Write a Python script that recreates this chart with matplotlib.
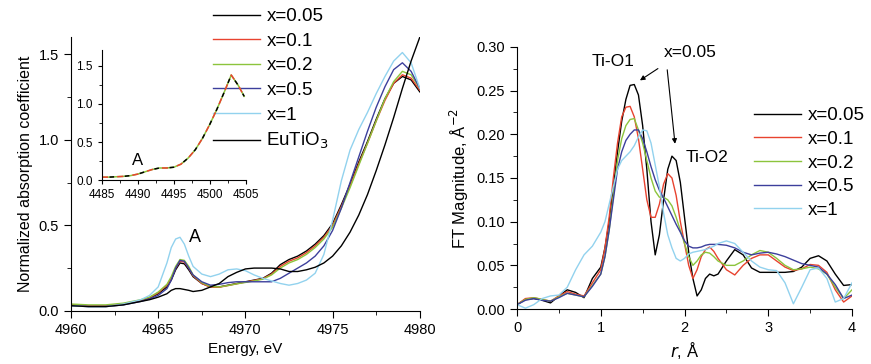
import numpy as np
import matplotlib.pyplot as plt
from matplotlib.ticker import MultipleLocator

plt.rcParams['font.family'] = ['Liberation Sans', 'DejaVu Sans']

# ---- XANES (left) ----
energy = [4960, 4961, 4962, 4963, 4964, 4964.5, 4965, 4965.5, 4965.75, 4966,
          4966.25, 4966.5, 4966.75, 4967, 4967.5, 4968, 4968.5, 4969, 4969.5, 4970,
          4970.5, 4971, 4971.5, 4972, 4972.5, 4973, 4973.5, 4974, 4974.5, 4975,
          4975.5, 4976, 4976.5, 4977, 4977.5, 4978, 4978.5, 4979, 4979.5, 4980]

xan_005 = [0.035, 0.03, 0.03, 0.04, 0.06, 0.075, 0.10, 0.14, 0.18, 0.24,
           0.28, 0.275, 0.24, 0.20, 0.16, 0.14, 0.14, 0.15, 0.16, 0.17,
           0.18, 0.19, 0.22, 0.27, 0.30, 0.32, 0.35, 0.39, 0.44, 0.51,
           0.62, 0.74, 0.87, 0.99, 1.12, 1.24, 1.33, 1.37, 1.35, 1.28]
xan_01 = [0.035, 0.03, 0.03, 0.04, 0.062, 0.078, 0.105, 0.15, 0.19, 0.25,
          0.29, 0.285, 0.25, 0.205, 0.16, 0.138, 0.138, 0.148, 0.158, 0.168,
          0.178, 0.188, 0.215, 0.26, 0.29, 0.31, 0.34, 0.38, 0.43, 0.50,
          0.61, 0.73, 0.86, 0.98, 1.11, 1.23, 1.33, 1.38, 1.36, 1.29]
xan_02 = [0.04, 0.035, 0.035, 0.045, 0.065, 0.08, 0.11, 0.155, 0.20, 0.26,
          0.30, 0.295, 0.26, 0.21, 0.165, 0.142, 0.14, 0.148, 0.158, 0.166,
          0.175, 0.185, 0.21, 0.25, 0.28, 0.30, 0.33, 0.37, 0.42, 0.49,
          0.60, 0.72, 0.85, 0.98, 1.11, 1.24, 1.34, 1.40, 1.38, 1.30]
xan_05 = [0.03, 0.025, 0.025, 0.035, 0.055, 0.07, 0.09, 0.13, 0.18, 0.25,
          0.295, 0.29, 0.25, 0.21, 0.17, 0.15, 0.155, 0.165, 0.17, 0.17,
          0.17, 0.17, 0.17, 0.19, 0.22, 0.25, 0.28, 0.32, 0.38, 0.47,
          0.60, 0.75, 0.90, 1.05, 1.19, 1.31, 1.41, 1.45, 1.40, 1.30]
xan_1 = [0.03, 0.025, 0.025, 0.04, 0.065, 0.09, 0.14, 0.28, 0.37, 0.42,
         0.43, 0.39, 0.32, 0.26, 0.215, 0.20, 0.215, 0.24, 0.245, 0.235,
         0.21, 0.19, 0.175, 0.16, 0.15, 0.16, 0.18, 0.22, 0.33, 0.53,
         0.76, 0.94, 1.06, 1.16, 1.27, 1.37, 1.46, 1.51, 1.45, 1.30]
xan_eto = [0.03, 0.025, 0.025, 0.035, 0.055, 0.065, 0.08, 0.10, 0.12, 0.13,
           0.13, 0.125, 0.12, 0.113, 0.12, 0.14, 0.16, 0.20, 0.225, 0.245,
           0.25, 0.25, 0.25, 0.245, 0.23, 0.23, 0.24, 0.255, 0.28, 0.32,
           0.38, 0.46, 0.56, 0.68, 0.82, 0.97, 1.13, 1.30, 1.46, 1.60]

# inset: Eu L3 edge region (all samples overlap)
inset_e = [4485, 4486, 4487, 4488, 4489, 4490, 4491, 4492, 4493, 4494, 4495,
           4496, 4497, 4498, 4499, 4500, 4501, 4502, 4503, 4504, 4504.8]
inset_mu = [0.04, 0.04, 0.045, 0.05, 0.06, 0.08, 0.11, 0.14, 0.16, 0.16, 0.17,
            0.21, 0.29, 0.40, 0.55, 0.73, 0.93, 1.15, 1.38, 1.24, 1.10]

# ---- FT EXAFS (right) ----
r = [0.0, 0.1, 0.2, 0.3, 0.4, 0.5, 0.6, 0.7, 0.8, 0.9, 1.0,
     1.05, 1.1, 1.15, 1.2, 1.25, 1.3, 1.35, 1.4, 1.45, 1.5, 1.55, 1.6, 1.65, 1.7,
     1.75, 1.8, 1.85, 1.9, 1.95, 2.0, 2.05, 2.1, 2.15, 2.2, 2.25, 2.3, 2.35, 2.4,
     2.5, 2.6, 2.7, 2.8, 2.9, 3.0, 3.1, 3.2, 3.3, 3.4, 3.5, 3.6, 3.7, 3.8, 3.9, 4.0]

ft_005 = [0.005, 0.011, 0.012, 0.010, 0.007, 0.015, 0.022, 0.019, 0.013, 0.035, 0.048,
          0.07, 0.10, 0.14, 0.18, 0.215, 0.24, 0.256, 0.257, 0.245, 0.21, 0.16, 0.10, 0.062, 0.085,
          0.125, 0.16, 0.175, 0.17, 0.145, 0.105, 0.065, 0.035, 0.015, 0.022, 0.035, 0.04, 0.038, 0.04,
          0.055, 0.068, 0.062, 0.047, 0.042, 0.042, 0.042, 0.042, 0.043, 0.048, 0.058, 0.061, 0.055, 0.04, 0.027, 0.028]
ft_01 = [0.005, 0.012, 0.013, 0.011, 0.009, 0.015, 0.02, 0.017, 0.015, 0.03, 0.045,
         0.07, 0.105, 0.15, 0.19, 0.22, 0.231, 0.232, 0.22, 0.195, 0.16, 0.125, 0.105, 0.105, 0.12,
         0.143, 0.155, 0.15, 0.13, 0.10, 0.075, 0.05, 0.035, 0.045, 0.06, 0.068, 0.071, 0.066, 0.058,
         0.045, 0.039, 0.05, 0.058, 0.062, 0.062, 0.055, 0.048, 0.044, 0.046, 0.051, 0.05, 0.042, 0.022, 0.008, 0.015]
ft_02 = [0.005, 0.011, 0.013, 0.011, 0.009, 0.014, 0.018, 0.016, 0.014, 0.027, 0.04,
         0.06, 0.09, 0.13, 0.17, 0.195, 0.21, 0.217, 0.218, 0.205, 0.19, 0.17, 0.15, 0.135, 0.128,
         0.128, 0.125, 0.118, 0.105, 0.09, 0.075, 0.06, 0.05, 0.055, 0.062, 0.065, 0.064, 0.06, 0.055,
         0.05, 0.05, 0.055, 0.062, 0.067, 0.065, 0.058, 0.05, 0.045, 0.046, 0.048, 0.046, 0.04, 0.025, 0.012, 0.022]
ft_05 = [0.005, 0.01, 0.012, 0.01, 0.009, 0.013, 0.018, 0.016, 0.014, 0.026, 0.04,
         0.06, 0.09, 0.125, 0.16, 0.18, 0.193, 0.2, 0.205, 0.205, 0.195, 0.18, 0.163, 0.148, 0.136,
         0.127, 0.117, 0.107, 0.097, 0.088, 0.078, 0.072, 0.07, 0.07, 0.071, 0.073, 0.074, 0.074, 0.074,
         0.073, 0.07, 0.065, 0.062, 0.064, 0.065, 0.063, 0.06, 0.056, 0.052, 0.05, 0.048, 0.04, 0.028, 0.012, 0.016]
ft_1 = [0.005, 0.001, 0.005, 0.012, 0.015, 0.016, 0.025, 0.045, 0.062, 0.072, 0.088,
        0.10, 0.12, 0.14, 0.16, 0.17, 0.175, 0.18, 0.187, 0.197, 0.205, 0.204, 0.19, 0.165, 0.14,
        0.11, 0.085, 0.07, 0.058, 0.055, 0.058, 0.063, 0.065, 0.066, 0.067, 0.068, 0.07, 0.072, 0.075,
        0.078, 0.075, 0.065, 0.055, 0.048, 0.045, 0.044, 0.03, 0.006, 0.025, 0.045, 0.047, 0.035, 0.008, 0.012, 0.03]

labels = ['x=0.05', 'x=0.1', 'x=0.2', 'x=0.5', 'x=1']
colors = ['#000000', '#e8432f', '#8cc43c', '#3c3f9c', '#92d2ee']

fig = plt.figure(figsize=(8.71, 3.64), dpi=100)

def style(ax, size=10.5):
    ax.spines['top'].set_visible(False)
    ax.spines['right'].set_visible(False)
    ax.tick_params(which='both', direction='out', labelsize=size)
    ax.tick_params(which='major', length=5)
    ax.tick_params(which='minor', length=3)

# left panel
ax1 = fig.add_axes([0.0815, 0.146, 0.4005, 0.752])
for y, lab, c in zip([xan_005, xan_01, xan_02, xan_05, xan_1], labels, colors):
    ax1.plot(energy, y, color=c, lw=1, label=lab)
ax1.plot(energy, xan_eto, color='black', lw=1, label='EuTiO$_3$')
ax1.set_xlim(4960, 4980)
ax1.set_ylim(0, 1.6)
ax1.xaxis.set_major_locator(MultipleLocator(5))
ax1.xaxis.set_minor_locator(MultipleLocator(2.5))
ax1.yaxis.set_major_locator(MultipleLocator(0.5))
ax1.yaxis.set_minor_locator(MultipleLocator(0.25))
ax1.yaxis.set_major_formatter(plt.FormatStrFormatter('%.1f'))
style(ax1)
ax1.set_xlabel('Energy, eV', fontsize=11)
ax1.set_ylabel('Normalized absorption coefficient', fontsize=11.5)
ax1.text(4967.1, 0.43, 'A', fontsize=13, ha='center', va='center')
ax1.legend(loc='upper left', bbox_to_anchor=(213 / 871, 1 - 8 / 364),
           bbox_transform=fig.transFigure, frameon=False, fontsize=13.5,
           handlelength=2.5, handletextpad=0.35, labelspacing=0.4,
           borderpad=0, borderaxespad=0)

# inset
ax_in = fig.add_axes([0.117, 0.505, 0.165, 0.358])
ax_in.patch.set_alpha(0)
ax_in.plot(inset_e, inset_mu, color=colors[2], lw=1.1)
ax_in.plot(inset_e, inset_mu, color=colors[1], lw=1.1, ls=(0, (4, 6)))
ax_in.plot(inset_e, inset_mu, color='black', lw=1.1, ls=(5, (3, 7)))
ax_in.set_xlim(4485, 4505)
ax_in.set_ylim(0, 1.71)
ax_in.xaxis.set_major_locator(MultipleLocator(5))
ax_in.xaxis.set_minor_locator(MultipleLocator(2.5))
ax_in.yaxis.set_major_locator(MultipleLocator(0.5))
ax_in.yaxis.set_minor_locator(MultipleLocator(0.25))
ax_in.yaxis.set_major_formatter(plt.FormatStrFormatter('%.1f'))
style(ax_in, 8.5)
ax_in.tick_params(which='major', length=3)
ax_in.tick_params(which='minor', length=2)
ax_in.text(4490, 0.26, 'A', fontsize=12, ha='center', va='center')

# right panel
ax2 = fig.add_axes([0.5936, 0.151, 0.3846, 0.720])
for y, lab, c in zip([ft_005, ft_01, ft_02, ft_05, ft_1], labels, colors):
    ax2.plot(r, y, color=c, lw=1, label=lab)
ax2.set_xlim(0, 4)
ax2.set_ylim(0, 0.30)
ax2.xaxis.set_major_locator(MultipleLocator(1))
ax2.xaxis.set_minor_locator(MultipleLocator(0.5))
ax2.yaxis.set_major_locator(MultipleLocator(0.05))
ax2.yaxis.set_minor_locator(MultipleLocator(0.025))
ax2.yaxis.set_major_formatter(plt.FormatStrFormatter('%.2f'))
style(ax2)
ax2.set_xlabel('$r$, Å', fontsize=12)
ax2.set_ylabel('FT Magnitude, Å$^{-2}$', fontsize=12)
ax2.text(1.15, 0.283, 'Ti-O1', fontsize=12.5, ha='center', va='center')
ax2.text(2.07, 0.294, 'x=0.05', fontsize=12.5, ha='center', va='center')
ax2.text(2.27, 0.174, 'Ti-O2', fontsize=12.5, ha='center', va='center')
ax2.annotate('', xy=(1.44, 0.26), xytext=(1.71, 0.277),
             arrowprops=dict(arrowstyle='-|>', color='black', lw=0.8,
                             mutation_scale=7))
ax2.annotate('', xy=(1.89, 0.186), xytext=(1.79, 0.277),
             arrowprops=dict(arrowstyle='-|>', color='black', lw=0.8,
                             mutation_scale=7))
ax2.legend(loc='upper left', bbox_to_anchor=(754 / 871, 1 - 107 / 364),
           bbox_transform=fig.transFigure, frameon=False, fontsize=13.5,
           handlelength=2.5, handletextpad=0.35, labelspacing=0.35,
           borderpad=0, borderaxespad=0)

fig.savefig('out.png', dpi=100)
